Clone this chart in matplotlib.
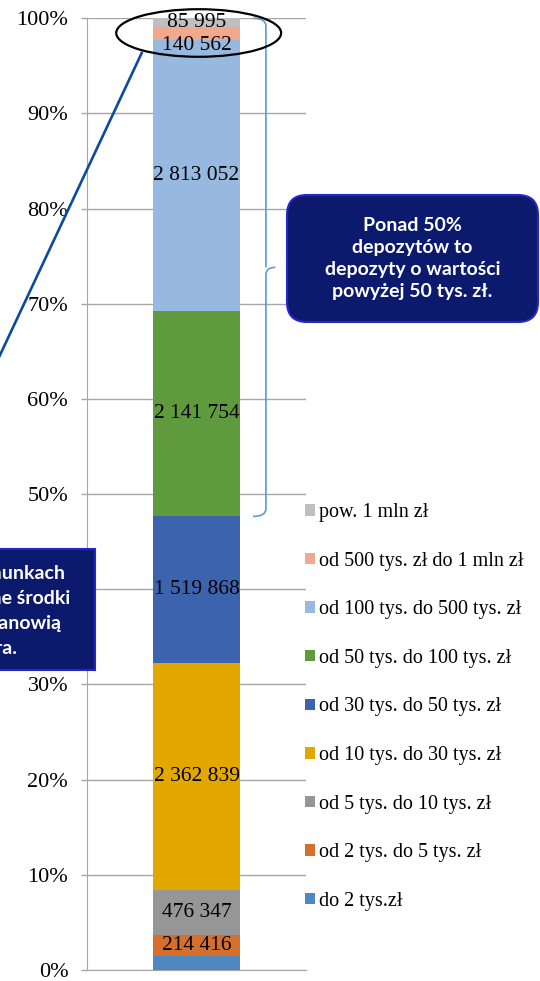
import numpy as np
import matplotlib
matplotlib.use('Agg')
from matplotlib import pyplot as plt
from matplotlib.patches import Ellipse, FancyBboxPatch, PathPatch
from matplotlib.path import Path
from matplotlib.lines import Line2D

plt.rcParams['font.family'] = ['Liberation Serif', 'DejaVu Serif']

# liczba depozytow wg przedzialow kwotowych (od dolu slupka)
kategorie = ['do 2 tys.zł', 'od 2 tys. do 5 tys. zł', 'od 5 tys. do 10 tys. zł',
             'od 10 tys. do 30 tys. zł', 'od 30 tys. do 50 tys. zł',
             'od 50 tys. do 100 tys. zł', 'od 100 tys. do 500 tys. zł',
             'od 500 tys. zł do 1 mln zł', 'pow. 1 mln zł']
liczba = [145000, 214416, 476347, 2362839, 1519868, 2141754, 2813052, 140562, 85995]
pokaz_etykiete = [False, True, True, True, True, True, True, True, True]
kolory = ['#4F87C0', '#D4702C', '#969696', '#E3A800', '#3C64AE',
          '#5F9A3E', '#97B9E0', '#F2A88A', '#BFBFBF']
# przesuniecia etykiet (pkt), zeby sie nie nakladaly na gorze
przesuniecie = [0, 0, 0, 0, 0, 0, 0, -9, 0]

def fmt(v):
    return f'{v:,}'.replace(',', ' ')

liczba = np.array(liczba, dtype=float)
udzial = liczba / liczba.sum()
dol = np.concatenate([[0], np.cumsum(udzial)[:-1]])

fig = plt.figure(figsize=(5.4, 9.81), dpi=100)
ax = fig.add_axes([87/540, 11/981, 219/540, 951.7/981])

bary = []
for i in range(len(kategorie)):
    b = ax.bar(0, udzial[i], width=0.4, bottom=dol[i], color=kolory[i],
               label=kategorie[i], zorder=3)
    bary.append(b)
    if pokaz_etykiete[i]:
        ax.annotate(fmt(int(liczba[i])), (0, dol[i] + udzial[i] / 2),
                    xytext=(0, przesuniecie[i]), textcoords='offset points',
                    ha='center', va='center', fontsize=15.5, zorder=5)

ax.set_xlim(-0.5, 0.5)
ax.set_ylim(0, 1)
ax.set_yticks(np.arange(0, 1.01, 0.1))
ax.set_yticklabels([f'{int(round(t*100))}%' for t in np.arange(0, 1.01, 0.1)])
ax.set_xticks([])
ax.tick_params(axis='y', length=4.5, width=1, color='#A6A6A6', pad=9, labelsize=16)
ax.grid(axis='y', color='#A6A6A6', lw=1, zorder=0)
for s in ['top', 'right']:
    ax.spines[s].set_visible(False)
for s in ['left', 'bottom']:
    ax.spines[s].set_color('#A6A6A6')

# elipsa wokol dwoch najwyzszych przedzialow
y_el = (dol[-2] + 1) / 2 - 0.004
ax.add_patch(Ellipse((0.01, y_el), 0.753, 0.05, fill=False, ec='black',
                     lw=1.6, clip_on=False, zorder=6))

# klamra od 50 tys. w gore
y0 = dol[5]
y1 = 1.0
ym = (y0 + y1) / 2
xk = 0.317
h = 0.008
verts = [(0.258, y0), (xk, y0), (xk, y0 + h), (xk, ym - h), (xk, ym), (0.36, ym),
         (xk, ym), (xk, ym + h), (xk, y1 - h), (xk, y1), (0.258, y1)]
codes = [Path.MOVETO, Path.CURVE3, Path.CURVE3, Path.LINETO, Path.CURVE3, Path.CURVE3,
         Path.MOVETO, Path.LINETO, Path.LINETO, Path.CURVE3, Path.CURVE3]
ax.add_patch(PathPatch(Path(verts, codes), fill=False, ec='#5B9BD5', lw=1.2,
                       clip_on=False, zorder=4))

# legenda (od gory: pow. 1 mln)
fig.legend([b for b in bary[::-1]], kategorie[::-1], loc='upper left',
           bbox_to_anchor=(305/540, 1 - 503/981), frameon=False, fontsize=14.5,
           handlelength=0.5, handleheight=0.5, handletextpad=0.2,
           labelspacing=1.47, borderpad=0, borderaxespad=0)

# ramka po prawej
tr = fig.dpi_scale_trans
fig.patches.append(FancyBboxPatch((2.87, 6.59), 2.51, 1.27,
                                  boxstyle='round,pad=0,rounding_size=0.2',
                                  fc='#0C1A6E', ec='#2626C8', lw=1.5, transform=tr))
fig.text(4.125, 7.225, 'Ponad 50%\ndepozytów to\ndepozyty o wartości\npowyżej 50 tys. zł.',
         transform=tr, ha='center', va='center', color='white', fontsize=14,
         fontweight='bold', family=['Lato', 'DejaVu Sans'], linespacing=1.38)

# ramka po lewej (ucieta przy krawedzi)
fig.patches.append(FancyBboxPatch((-1.3, 3.11), 2.25, 1.21,
                                  boxstyle='square,pad=0',
                                  fc='#0C1A6E', ec='#2626C8', lw=1.5, transform=tr))
fig.text(-0.17, 3.70, 'Na 2% rachunkach\nzgromadzone środki\nw sumie stanowią\nsektora.',
         transform=tr, ha='center', va='center', color='white', fontsize=14,
         fontweight='bold', family=['Lato', 'DejaVu Sans'], linespacing=1.56)

# linia od elipsy do ramki
fig.add_artist(Line2D([1.417, -0.6], [9.28, 4.98], transform=tr,
                      color='#0D4A9E', lw=1.9))

fig.savefig('out.png', dpi=100)
